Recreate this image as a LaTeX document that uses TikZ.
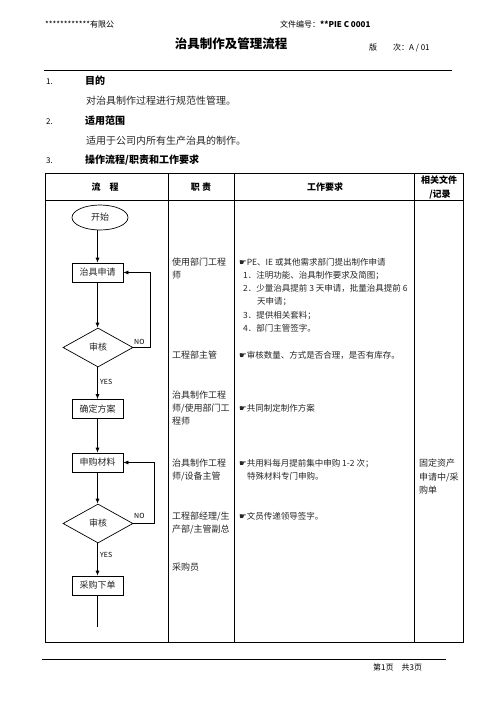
\documentclass[tikz,border=0pt]{standalone}
\usepackage{fontspec}
\setmainfont{Noto Sans CJK SC}
\newfontfamily\symf{DejaVu Sans}
\usetikzlibrary{shapes.geometric,arrows.meta}
\newcommand{\hand}{{\symf\fontsize{8.5}{8.5}\selectfont ☛}}
\begin{document}
\begin{tikzpicture}[x=1pt,y=-1pt,
  txt/.style={inner sep=0pt, anchor=west, text height=0.8em, text depth=0.2em},
  ctxt/.style={inner sep=0pt, anchor=center, text height=0.8em, text depth=0.2em},
  rolet/.style={txt, font=\fontsize{9}{9}\selectfont, text=black!85},
  reqt/.style={txt, font=\fontsize{8.5}{8.5}\selectfont, text=black!85},
  headt/.style={ctxt, font=\fontsize{9}{9}\selectfont\bfseries},
  grid/.style={line width=0.8pt},
  fbox/.style={draw, line width=0.7pt, rectangle, minimum width=51pt, minimum height=19pt, inner sep=0pt, font=\fontsize{9}{9}\selectfont, text=black!85},
  fdia/.style={draw, line width=0.7pt, diamond, minimum width=70pt, minimum height=39pt, inner sep=0pt, font=\fontsize{9}{9}\selectfont, text=black!85},
  fell/.style={draw, line width=0.7pt, ellipse, minimum width=56pt, minimum height=25pt, inner sep=0pt, font=\fontsize{9}{9}\selectfont, text=black!85},
  arr/.style={line width=0.7pt, -{Latex[length=5pt,width=4pt]}},
  lbl/.style={inner sep=0pt, font=\fontsize{7}{7}\selectfont}
]
\useasboundingbox (0,0) rectangle (496,702);
\fill[white] (0,0) rectangle (496,702);

% page header
\node[txt, font=\fontsize{8}{8}\selectfont] (co) at (45,24) {************有限公};
\node[txt, font=\fontsize{8}{8}\selectfont] (docno) at (280,24) {文件编号：\textbf{**PIE C 0001}};
\node[ctxt, font=\fontsize{12.5}{12.5}\selectfont\bfseries] (title) at (231,45) {治具制作及管理流程};
\node[txt, font=\fontsize{8}{8}\selectfont] (ver) at (369,47) {版　　次：A / 01};
\coordinate (hl) at (44,70);
\coordinate (hr) at (452,70);
\draw[line width=1pt] (hl) -- (hr);

% sections
\node[txt, font=\fontsize{8}{8}\selectfont] (n1) at (46,81) {1.};
\node[txt, font=\fontsize{10}{10}\selectfont\bfseries] (s1) at (85,81) {目的};
\node[txt, font=\fontsize{10}{10}\selectfont, text=black!85] (p1) at (86,101) {对治具制作过程进行规范性管理。};
\node[txt, font=\fontsize{8}{8}\selectfont] (n2) at (46,121) {2.};
\node[txt, font=\fontsize{10}{10}\selectfont\bfseries] (s2) at (85,121) {适用范围};
\node[txt, font=\fontsize{10}{10}\selectfont, text=black!85] (p2) at (86,141) {适用于公司内所有生产治具的制作。};
\node[txt, font=\fontsize{8}{8}\selectfont] (n3) at (46,160) {3.};
\node[txt, font=\fontsize{10}{10}\selectfont\bfseries] (s3) at (85,160) {操作流程/职责和工作要求};

% table
\draw[grid] (45,173) rectangle (463,642);
\draw[grid] (45,200) -- (463,200);
\draw[grid] (168,173) -- (168,642);
\draw[grid] (234,173) -- (234,642);
\draw[grid] (414,173) -- (414,642);
\node[headt] (h1) at (105,187) {流　程};
\node[headt] (h2) at (201,187) {职 责};
\node[headt] (h3) at (325,187) {工作要求};
\node[headt] (h4a) at (439,180) {相关文件};
\node[headt] (h4b) at (440,194) {/记录};

% flowchart
\node[fell] (st) at (100,217.5) {开始};
\node[fbox] (b1) at (97.5,272.5) {治具申请};
\node[fdia] (d1) at (98,347.5) {审核};
\node[fbox] (b2) at (97.5,409) {确定方案};
\node[fbox] (b3) at (97.5,462.5) {申购材料};
\node[fdia] (d2) at (98,523.5) {审核};
\node[fbox] (b4) at (97.5,585.5) {采购下单};
\coordinate (fend) at (97.5,627);
\coordinate (l1) at (150,0);
\coordinate (l2) at (154,0);

\draw[arr] (st.south -| b1.north) -- (b1.north);
\draw[arr] (b1.south) -- (b1.south |- d1.north);
\draw[arr] (d1.east) -| (l1 |- b1.east) -- (b1.east);
\draw[arr] (d1.south -| b2.north) -- (b2.north);
\draw[arr] (b2.south) -- (b3.north);
\draw[arr] (b3.south) -- (b3.south |- d2.north);
\draw[arr] (d2.east) -| (l2 |- b3.east) -- (b3.east);
\draw[arr] (d2.south -| b4.north) -- (b4.north);
\draw[line width=0.7pt] (b4.south) -- (fend);

\node[lbl, anchor=west] (no1) at (134,342) {NO};
\node[lbl, anchor=west] (yes1) at (100,382) {YES};
\node[lbl, anchor=west] (no2) at (134,516) {NO};
\node[lbl, anchor=west] (yes2) at (100,555) {YES};

% roles
\node[rolet] (r1a) at (172,262) {使用部门工程};
\node[rolet] (r1b) at (172,275) {师};
\node[rolet] (r2) at (172,355) {工程部主管};
\node[rolet] (r3a) at (172,395) {治具制作工程};
\node[rolet] (r3b) at (172,408) {师/使用部门工};
\node[rolet] (r3c) at (172,421) {程师};
\node[rolet] (r4a) at (172,463) {治具制作工程};
\node[rolet] (r4b) at (172,476) {师/设备主管};
\node[rolet] (r5a) at (172,516) {工程部经理/生};
\node[rolet] (r5b) at (172,529) {产部/主管副总};
\node[rolet] (r6) at (172,567) {采购员};

% requirements
\node[reqt] (q1) at (239,262) {\hand PE、IE 或其他需求部门提出制作申请};
\node[reqt] (q1a) at (243,275) {1．注明功能、治具制作要求及简图；};
\node[reqt] (q1b) at (243,288) {2．少量治具提前 3 天申请，批量治具提前 6};
\node[reqt] (q1c) at (257,301) {天申请；};
\node[reqt] (q1d) at (243,315) {3．提供相关套料；};
\node[reqt] (q1e) at (243,328) {4．部门主管签字。};
\node[reqt] (q2) at (239,355) {\hand 审核数量、方式是否合理，是否有库存。};
\node[reqt] (q3) at (239,408) {\hand 共同制定制作方案};
\node[reqt] (q4a) at (239,463) {\hand 共用料每月提前集中申购 1-2 次；};
\node[reqt] (q4b) at (247,476) {特殊材料专门申购。};
\node[reqt] (q5) at (239,516) {\hand 文员传递领导签字。};

% records
\node[rolet] (f1a) at (419,463) {固定资产};
\node[rolet] (f1b) at (419,477) {申请中/采};
\node[rolet] (f1c) at (419,490) {购单};

% footer
\coordinate (fl) at (42,659);
\coordinate (fr) at (446,659);
\draw[line width=0.8pt] (fl) -- (fr);
\node[txt, font=\fontsize{8}{8}\selectfont] (pg) at (373,667) {第1页　共3页};
\end{tikzpicture}
\end{document}
